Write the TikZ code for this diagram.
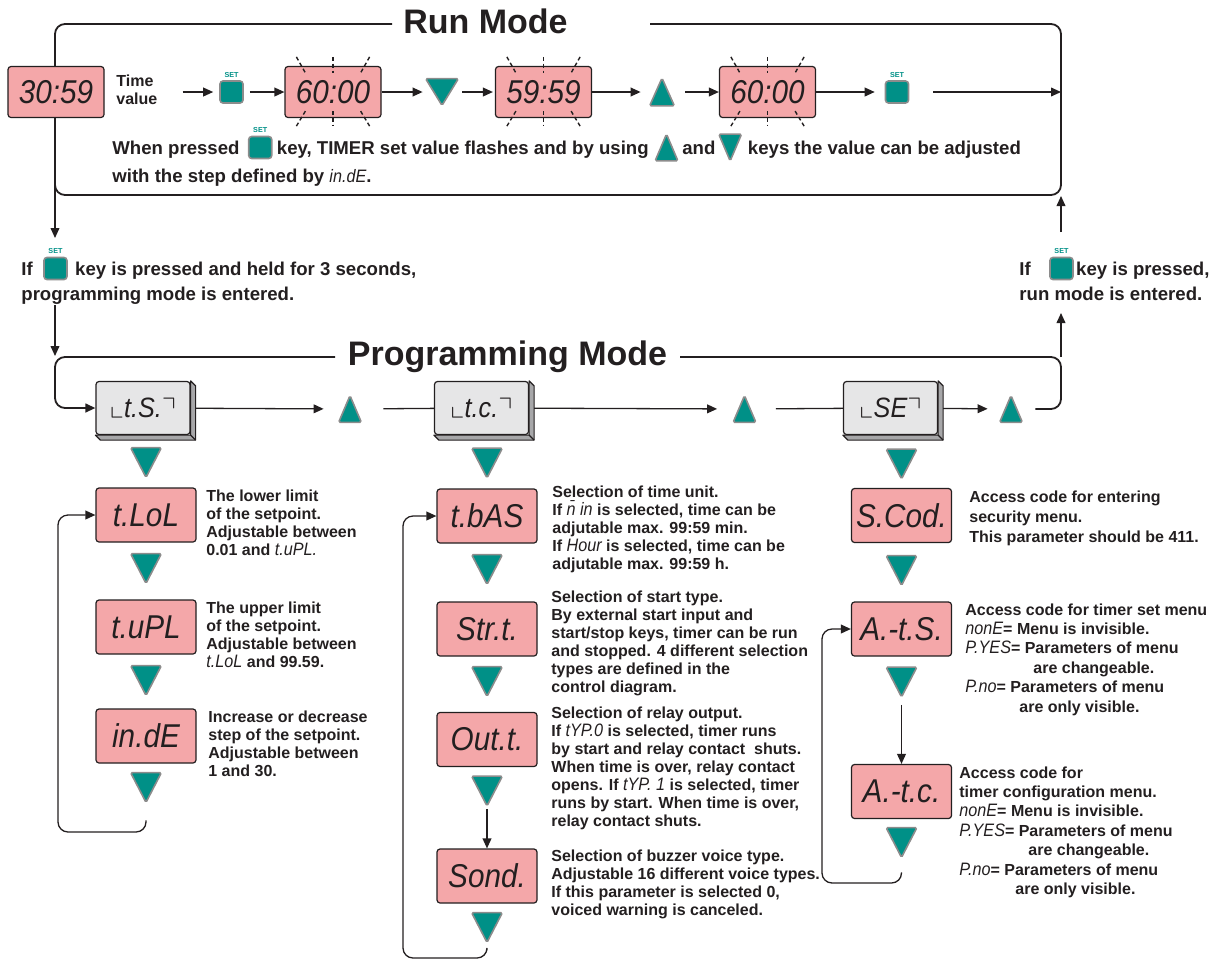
\documentclass[tikz,border=0pt]{standalone}
\usepackage{fontspec}
\usepackage{amssymb}
\setmainfont{Liberation Sans}
\newfontfamily\segfont{Liberation Sans}[FakeStretch=0.9]
\usetikzlibrary{positioning,arrows.meta,calc}
\definecolor{dpink}{HTML}{F4A7A9}
\definecolor{kteal}{HTML}{009087}
\definecolor{kedge}{HTML}{8C8C8C}
\definecolor{ink}{HTML}{231F20}
\definecolor{mface}{HTML}{E6E6E7}
\definecolor{mside}{HTML}{A7A7A9}
\newcommand{\segtxt}[1]{{\segfont\itshape\mdseries\fontsize{9}{9}\selectfont #1}}

\begin{document}
\begin{tikzpicture}[x=0.5pt, y=-0.5pt, color=ink,
  font=\bfseries\fontsize{8}{9}\selectfont,
  frame/.style={line width=0.9pt, rounded corners=5pt},
  arr/.style={-{Triangle[length=5pt,width=4.4pt]}, line width=0.65pt},
  link/.style={line width=0.65pt},
  disp/.style={draw=ink, line width=0.6pt, fill=dpink, rounded corners=1.5pt,
    minimum width=50pt, minimum height=27pt, inner sep=0pt,
    font=\segfont\itshape\fontsize{16.5}{16.5}\selectfont},
  rundisp/.style={disp, minimum width=48pt, minimum height=25.5pt},
  menubox/.style={draw=ink, line width=0.6pt, fill=mface, rounded corners=1.5pt,
    minimum width=47pt, minimum height=26.5pt, inner sep=0pt,
    font=\segfont\itshape\fontsize{14}{14}\selectfont},
  bevel/.style={fill=mside, draw=ink, line width=0.6pt, line join=round},
  keyspot/.style={inner sep=0pt, minimum width=15pt, minimum height=14.5pt},
  tri/.style={draw=kedge, line width=0.8pt, fill=kteal, rounded corners=0.8pt},
  setlbl/.style={font=\bfseries\fontsize{3.6}{3.6}\selectfont, text=kteal, inner sep=0pt},
  setkey/.style={draw=kedge, line width=0.8pt, fill=kteal, rounded corners=1.5pt,
    minimum width=11.5pt, minimum height=11pt, inner sep=0pt,
    label={[setlbl, label distance=1.2pt]above:SET}},
  flash/.style={line width=0.7pt, dash pattern=on 2pt off 1.4pt},
  title/.style={font=\bfseries\fontsize{17}{17}\selectfont, inner sep=0pt, anchor=base},
  runtxt/.style={font=\bfseries\fontsize{9.3}{14}\selectfont, inner sep=0pt,
    text height=8pt, text depth=1.5pt},
  note/.style={align=left, inner sep=0pt, anchor=north west}]
\useasboundingbox (0,0) rectangle (1216,960);

% run mode
\draw[frame] (392,24) -- (55,24) -- (55,195) -- (1061,195) -- (1061,24) -- (650,24);
\node[title] (runttl) at (485.5,33) {Run Mode};
\node[rundisp] (t3059) at (56,92) {30:59};
\node[anchor=west, align=left, inner sep=0pt] (tval) at (116,90) {Time\\value};
\node[setkey] (kset1) at (231.5,92) {};
\node[rundisp] (t6000a) at (333,92) {60:00};
\node[keyspot, minimum width=16pt, minimum height=13pt] (rundn) at (442,92) {};
\node[rundisp] (t5959) at (543.5,92) {59:59};
\node[keyspot, minimum width=12pt, minimum height=13.5pt] (runup) at (662,92) {};
\node[rundisp] (t6000b) at (767.5,92) {60:00};
\node[setkey] (kset2) at (897,92) {};
\coordinate (runR) at (1061,92);

\draw[arr, shorten >=3pt] ($(tval.east |- kset1.west)+(25,0)$) -- (kset1.west);
\draw[arr, shorten <=3pt] (kset1) -- (t6000a);
\draw[arr, shorten >=1.5pt] (t6000a) -- (rundn);
\draw[arr, shorten <=2pt, shorten >=1pt] (rundn) -- (t5959);
\draw[arr, shorten >=4.5pt] (t5959) -- (runup);
\draw[arr, shorten <=5.5pt] (runup) -- (t6000b);
\draw[arr, shorten >=5pt] (t6000b) -- (kset2);
\draw[arr, shorten <=12pt] (kset2) -- (runR);

\foreach \b in {t6000a,t5959,t6000b} {
  \draw[flash] ([shift={(12,-9)}]\b.north west) -- ([shift={(21,7)}]\b.north west);
  \draw[flash] ([shift={(0,-9)}]\b.north) -- ([shift={(0,7)}]\b.north);
  \draw[flash] ([shift={(-12,-9)}]\b.north east) -- ([shift={(-21,7)}]\b.north east);
  \draw[flash] ([shift={(21,-7)}]\b.south west) -- ([shift={(12,8)}]\b.south west);
  \draw[flash] ([shift={(0,-7)}]\b.south) -- ([shift={(0,8)}]\b.south);
  \draw[flash] ([shift={(-21,-7)}]\b.south east) -- ([shift={(-12,8)}]\b.south east);
}

\node[runtxt, anchor=base west] (msg1) at (112,154) {When pressed};
\node[setkey, right=4pt of msg1] (kset5) {};
\node[runtxt, right=2pt of kset5] (msg2) {key, TIMER set value flashes and by using};
\node[keyspot, minimum width=11pt, minimum height=13pt, right=3pt of msg2] (msgup) {};
\node[runtxt, right=2pt of msgup] (msg3) {and};
\node[keyspot, minimum width=11pt, minimum height=13pt, right=1.5pt of msg3] (msgdn) {};
\node[runtxt, right=3pt of msgdn] (msg4) {keys the value can be adjusted};
\node[runtxt, anchor=base west] (msg5) at (112,182) {with the step defined by \segtxt{in.dE}.};

% between the modes
\coordinate (runexit) at (55,238);
\coordinate (progin) at (55,356);
\draw[arr] (55,185) -- (runexit);
\node[runtxt, anchor=base west] (if1) at (21,275) {If};
\node[setkey, right=5pt of if1] (kset3) {};
\node[runtxt, right=3.5pt of kset3] (hold1) {key is pressed and held for 3 seconds,};
\node[runtxt, anchor=base west] (hold2) at (21,300) {programming mode is entered.};
\draw[arr] (55,305) -- (progin);

\node[runtxt, anchor=base west] (if2) at (1019,275) {If};
\node[setkey, right=9pt of if2] (kset4) {};
\node[runtxt, right=1pt of kset4] (back1) {key is pressed,};
\node[runtxt, anchor=base west] (back2) at (1019,300) {run mode is entered.};
\draw[arr] (1061,232) -- (1061,196);
\draw[arr] (1061,357) -- (1061,313);

% programming mode
\node[title] (progttl) at (507.5,365) {Programming Mode};
\node[menubox] (tS) at (143,408) {$\llcorner$t.S.$\urcorner$};
\node[menubox] (tc) at (481.5,408) {$\llcorner$t.c.$\urcorner$};
\node[menubox] (tSE) at (890.5,408) {$\llcorner$SE$\urcorner$};
\foreach \m in {tS,tc,tSE} {
  \filldraw[bevel] (\m.north east) -- ++(5,5) -- ($(\m.south east)+(5,5)$)
    -- ($(\m.south west)+(5,5)$) -- (\m.south west) -- (\m.south east) -- cycle;
  \draw[line width=0.6pt] (\m.south east) -- ++(5,5);
}
\node[keyspot, minimum width=11pt, minimum height=13pt] (pup1) at (350,409) {};
\node[keyspot, minimum width=11pt, minimum height=13pt] (pup2) at (744.5,409) {};
\node[keyspot, minimum width=11pt, minimum height=13pt] (pup3) at (1011,409) {};
\draw[arr, frame] (335,357) -- (55,357) |- (tS.west);
\draw[frame] ($(pup3.east)+(13,0)$) -| (1061,357) -- (680,357);
\draw[arr, shorten <=2.5pt, shorten >=7.5pt] (tS) -- (pup1);
\draw[link, shorten <=11pt] (pup1) -- (tc);
\draw[arr, shorten <=2.5pt, shorten >=8pt] (tc) -- (pup2);
\draw[link, shorten <=10pt] (pup2) -- (tSE);
\draw[arr, shorten <=2.5pt, shorten >=6pt] (tSE) -- (pup3);

% left column
\node[keyspot] (ldn1) at (146,462.5) {};
\node[disp] (tLoL) at (146,515) {t.LoL};
\node[keyspot] (ldn2) at (146,568.5) {};
\node[disp] (tuPL) at (146,627) {t.uPL};
\node[keyspot] (ldn3) at (146,680.5) {};
\node[disp] (inde) at (146,736) {in.dE};
\node[keyspot] (ldn4) at (146,787.5) {};
\draw[arr, rounded corners=5pt] ($(ldn4.south)+(0,18)$) |- (58,832) |- (tLoL.west);
\node[note] (lt1) at (206,489) {The lower limit\\of the setpoint.\\Adjustable between\\0.01 and \segtxt{t.uPL.}};
\node[note] (lt2) at (206,601) {The upper limit\\of the setpoint.\\Adjustable between\\\segtxt{t.LoL} and 99.59.};
\node[note] (lt3) at (208,710) {Increase or decrease\\step of the setpoint.\\Adjustable between\\1 and 30.};

% middle column
\node[keyspot] (mdn1) at (487,463) {};
\node[disp] (tbAS) at (487,516) {t.bAS};
\node[keyspot] (mdn2) at (487,569.5) {};
\node[disp] (Strt) at (487,629) {Str.t.};
\node[keyspot] (mdn3) at (487,681.5) {};
\node[disp] (Outt) at (487,739.5) {Out.t.};
\node[keyspot] (mdn4) at (487,791) {};
\node[disp] (Sond) at (487,876) {Sond.};
\node[keyspot] (mdn5) at (487,927.5) {};
\draw[arr, shorten <=1.5pt] (mdn4) -- (Sond);
\draw[arr, rounded corners=5pt] ($(mdn5.south)+(0,8)$) |- (403,958) |- (tbAS.west);
\node[note] (mt1) at (552,485) {Selection of time unit.\\If \segtxt{\=n in} is selected, time can be\\adjutable max. 99:59 min.\\If \segtxt{Hour} is selected, time can be\\adjutable max. 99:59 h.};
\node[note] (mt2) at (551,590) {Selection of start type.\\By external start input and\\start/stop keys, timer can be run\\and stopped. 4 different selection\\types are defined in the\\control diagram.};
\node[note] (mt3) at (551,706) {Selection of relay output.\\If \segtxt{tYP.0} is selected, timer runs\\by start and relay contact\ \ shuts.\\When time is over, relay contact\\opens. If \segtxt{tYP. 1} is selected, timer\\runs by start. When time is over,\\relay contact shuts.};
\node[note] (mt4) at (551,849) {Selection of buzzer voice type.\\Adjustable 16 different voice types.\\If this parameter is selected 0,\\voiced warning is canceled.};

% right column
\node[keyspot] (rdn1) at (901.5,464) {};
\node[disp] (SCod) at (901.5,515.5) {S.Cod.};
\node[keyspot] (rdn2) at (901.5,570.5) {};
\node[disp] (AtS) at (901.5,629) {A.-t.S.};
\node[keyspot] (rdn3) at (901.5,682) {};
\node[disp] (AtC) at (901.5,791.5) {A.-t.c.};
\node[keyspot] (rdn4) at (901.5,842.5) {};
\draw[arr, shorten <=4pt] (rdn3) -- (AtC);
\draw[arr, rounded corners=5pt] ($(rdn4.south)+(0,15)$) |- (822,883) |- (AtS.west);
\node[note, font=\bfseries\fontsize{8}{10.2}\selectfont] (rt1) at (969,490) {Access code for entering\\security menu.\\This parameter should be 411.};
\node[note, font=\bfseries\fontsize{8}{9.7}\selectfont] (rt2) at (965,603) {Access code for timer set menu\\\segtxt{nonE}= Menu is invisible.\\\segtxt{P.YES}= Parameters of menu\\\hspace*{34pt}are changeable.\\\segtxt{P.no}= Parameters of menu\\\hspace*{27pt}are only visible.};
\node[note, font=\bfseries\fontsize{8}{9.7}\selectfont] (rt3) at (959,766) {Access code for\\timer configuration menu.\\\segtxt{nonE}= Menu is invisible.\\\segtxt{P.YES}= Parameters of menu\\\hspace*{34.5pt}are changeable.\\\segtxt{P.no}= Parameters of menu\\\hspace*{28pt}are only visible.};

% keys
\foreach \n in {rundn,msgdn,ldn1,ldn2,ldn3,ldn4,mdn1,mdn2,mdn3,mdn4,mdn5,rdn1,rdn2,rdn3,rdn4}
  \filldraw[tri] (\n.north west) -- (\n.north east) -- (\n.south) -- cycle;
\foreach \n in {runup,msgup,pup1,pup2,pup3}
  \filldraw[tri] (\n.south west) -- (\n.south east) -- (\n.north) -- cycle;
\end{tikzpicture}
\end{document}
